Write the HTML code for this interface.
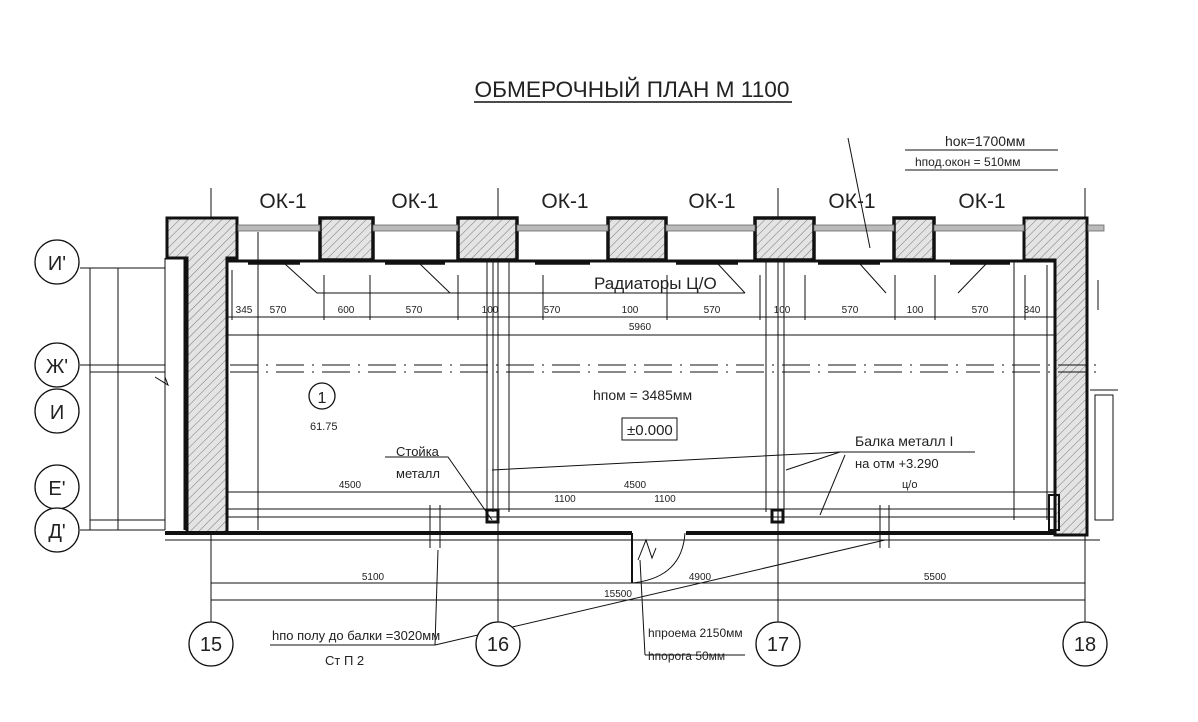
<!DOCTYPE html>
<html><head><meta charset="utf-8"><style>
html,body{margin:0;padding:0;background:#fff;}
svg{display:block;}
text{font-family:"Liberation Sans",sans-serif;font-weight:400;fill:#222;stroke:none;}
</style></head><body>
<svg width="1198" height="722" viewBox="0 0 1198 722" xmlns="http://www.w3.org/2000/svg">
<defs>
<pattern id="h" width="6" height="6" patternUnits="userSpaceOnUse" patternTransform="rotate(45)">
<rect width="6" height="6" fill="#e4e4e4"/><line x1="0" y1="0" x2="0" y2="6" stroke="#777" stroke-width="1"/>
</pattern>
</defs>
<text x="632" y="97" font-size="22" text-anchor="middle" textLength="315" lengthAdjust="spacingAndGlyphs">ОБМЕРОЧНЫЙ ПЛАН  М 1100</text>
<line x1="474" y1="102" x2="792" y2="102" stroke="#111" stroke-width="1.5"/>

<g stroke="#111" fill="none">
<line x1="211" y1="188" x2="211" y2="622" stroke-width="1"/>
<line x1="498" y1="188" x2="498" y2="622" stroke-width="1"/>
<line x1="778" y1="188" x2="778" y2="622" stroke-width="1"/>
<line x1="1085" y1="188" x2="1085" y2="622" stroke-width="1"/>
<path d="M167 218 H237 V258 H227 V533 H187 V258 H167 Z" fill="url(#h)" stroke-width="3"/>
<rect x="320" y="218" width="53" height="42" fill="url(#h)" stroke-width="3.5"/>
<rect x="458" y="218" width="59" height="42" fill="url(#h)" stroke-width="3.5"/>
<rect x="608" y="218" width="58" height="42" fill="url(#h)" stroke-width="3.5"/>
<rect x="755" y="218" width="59" height="42" fill="url(#h)" stroke-width="3.5"/>
<rect x="894" y="218" width="40" height="42" fill="url(#h)" stroke-width="3.5"/>
<path d="M1024 218 H1087 V535 H1055 V260 H1024 Z" fill="url(#h)" stroke-width="3"/>
<g fill="#bbb" stroke="#666" stroke-width="0.8">
<rect x="238" y="225" width="82" height="6"/><rect x="373" y="225" width="85" height="6"/>
<rect x="517" y="225" width="91" height="6"/><rect x="666" y="225" width="89" height="6"/>
<rect x="814" y="225" width="80" height="6"/><rect x="934" y="225" width="90" height="6"/>
<rect x="1088" y="225" width="16" height="6"/>
</g>
<line x1="165" y1="258" x2="165" y2="530" stroke-width="1"/>
<line x1="185" y1="258" x2="185" y2="530" stroke-width="3"/>
<line x1="227" y1="261" x2="1055" y2="261" stroke-width="3"/>
<line x1="165" y1="533" x2="632" y2="533" stroke-width="4"/>
<line x1="686" y1="533" x2="1055" y2="533" stroke-width="4"/>
<line x1="165" y1="540" x2="1100" y2="540" stroke-width="1"/>
<g stroke-width="3.5">
<line x1="248" y1="263" x2="300" y2="263"/><line x1="385" y1="263" x2="445" y2="263"/>
<line x1="535" y1="263" x2="590" y2="263"/><line x1="676" y1="263" x2="738" y2="263"/>
<line x1="818" y1="263" x2="880" y2="263"/><line x1="950" y1="263" x2="1010" y2="263"/>
</g>
<g stroke-width="1">
<polyline points="285,264 317,293 745,293"/>
<line x1="420" y1="264" x2="450" y2="293"/>
<line x1="718" y1="264" x2="745" y2="293"/>
<line x1="860" y1="264" x2="886" y2="293"/>
<line x1="986" y1="264" x2="958" y2="293"/>
<line x1="227" y1="317" x2="1055" y2="317"/>
<line x1="227" y1="335" x2="1055" y2="335"/>
<line x1="232" y1="270" x2="232" y2="320"/>
<line x1="258" y1="232" x2="258" y2="530"/>
<line x1="324" y1="275" x2="324" y2="320"/><line x1="370" y1="275" x2="370" y2="320"/>
<line x1="458" y1="275" x2="458" y2="320"/><line x1="543" y1="275" x2="543" y2="320"/>
<line x1="667" y1="275" x2="667" y2="320"/><line x1="760" y1="275" x2="760" y2="320"/>
<line x1="805" y1="275" x2="805" y2="320"/><line x1="895" y1="275" x2="895" y2="320"/>
<line x1="935" y1="275" x2="935" y2="320"/><line x1="1025" y1="275" x2="1025" y2="320"/>
<line x1="487" y1="262" x2="487" y2="512"/><line x1="509" y1="262" x2="509" y2="512"/>
<line x1="493" y1="262" x2="493" y2="512"/>
<line x1="766" y1="262" x2="766" y2="512"/><line x1="784" y1="262" x2="784" y2="512"/>
<line x1="1014" y1="262" x2="1014" y2="520"/>
<line x1="1047" y1="265" x2="1047" y2="520"/>
<line x1="227" y1="492" x2="1055" y2="492"/>
<line x1="227" y1="509" x2="1055" y2="509"/>
<line x1="227" y1="517" x2="1055" y2="517"/>
<line x1="230" y1="365" x2="1100" y2="365" stroke-dasharray="28,8,2,8"/>
<line x1="230" y1="372" x2="1100" y2="372" stroke-dasharray="28,8,2,8"/>
<line x1="80" y1="268" x2="165" y2="268"/>
<line x1="80" y1="365" x2="165" y2="365"/>
<line x1="90" y1="372" x2="165" y2="372"/>
<line x1="90" y1="520" x2="165" y2="520"/>
<line x1="80" y1="530" x2="165" y2="530"/>
<line x1="90" y1="268" x2="90" y2="530"/>
<line x1="118" y1="268" x2="118" y2="530"/>
<polyline points="155,377 168,385 165,377"/>
<polyline points="385,457 448,457 492,520"/>
<polyline points="492,470 840,452 975,452"/>
<line x1="786" y1="470" x2="840" y2="452"/>
<line x1="820" y1="515" x2="845" y2="455"/>
<polyline points="270,645 435,645 438,550"/>
<polyline points="435,645 885,540"/>
<polyline points="645,655 745,655"/>
<line x1="645" y1="655" x2="640" y2="560"/>
<line x1="632" y1="533" x2="632" y2="583" stroke-width="2"/>
<path d="M632 583 Q682 578 685 533"/>
<polyline points="638,560 646,540 652,558 656,548"/>
<line x1="211" y1="583" x2="1085" y2="583"/>
<line x1="211" y1="600" x2="1085" y2="600"/>
<line x1="430" y1="505" x2="430" y2="548"/><line x1="440" y1="505" x2="440" y2="548"/>
<line x1="880" y1="505" x2="880" y2="548"/><line x1="889" y1="505" x2="889" y2="548"/>
<rect x="622" y="418" width="55" height="22"/>
<line x1="848" y1="138" x2="870" y2="248"/>
<line x1="905" y1="170" x2="1058" y2="170"/>
<line x1="905" y1="150" x2="1058" y2="150"/>
<line x1="1098" y1="280" x2="1098" y2="310"/>
<line x1="1090" y1="390" x2="1118" y2="390"/>
<rect x="1095" y="395" width="18" height="125"/>
</g>
<rect x="487" y="510" width="11" height="12" fill="none" stroke="#111" stroke-width="3"/>
<rect x="772" y="510" width="11" height="12" fill="none" stroke="#111" stroke-width="3"/>
<rect x="1049" y="495" width="10" height="35" fill="none" stroke="#111" stroke-width="2"/>

<g fill="#fff" stroke="#111" stroke-width="1.3">
<circle cx="211" cy="644" r="22"/><circle cx="498" cy="644" r="22"/>
<circle cx="778" cy="644" r="22"/><circle cx="1085" cy="644" r="22"/>
<circle cx="57" cy="262" r="22"/><circle cx="57" cy="365" r="22"/>
<circle cx="57" cy="411" r="22"/><circle cx="57" cy="487" r="22"/>
<circle cx="57" cy="530" r="22"/>
<circle cx="322" cy="396" r="13"/>
</g>
<g font-size="20" text-anchor="middle">
<text x="211" y="651">15</text><text x="498" y="651">16</text>
<text x="778" y="651">17</text><text x="1085" y="651">18</text>
<text x="57" y="270">И'</text><text x="57" y="373">Ж'</text>
<text x="57" y="419">И</text><text x="57" y="495">Е'</text>
<text x="57" y="538">Д'</text>
<text x="322" y="403" font-size="16">1</text>
</g>
<g font-size="21" text-anchor="middle">
<text x="283" y="208">ОК-1</text><text x="415" y="208">ОК-1</text>
<text x="565" y="208">ОК-1</text><text x="712" y="208">ОК-1</text>
<text x="852" y="208">ОК-1</text><text x="982" y="208">ОК-1</text>
</g>
<g font-size="14">
<text x="945" y="146">hок=1700мм</text>
<text x="915" y="166" font-size="12">hпод.окон = 510мм</text>
<text x="594" y="289" font-size="17">Радиаторы Ц/О</text>
<text x="593" y="400">hпом = 3485мм</text>
<text x="627" y="435" font-size="15">±0.000</text>
<text x="310" y="430" font-size="11">61.75</text>
<text x="396" y="456" font-size="13">Стойка</text>
<text x="396" y="478" font-size="13">металл</text>
<text x="855" y="446" font-size="14">Балка металл I</text>
<text x="855" y="468" font-size="13">на отм +3.290</text>
<text x="902" y="488" font-size="11">ц/о</text>
<text x="272" y="640" font-size="13">hпо полу до балки =3020мм</text>
<text x="325" y="665" font-size="13">Ст П 2</text>
<text x="648" y="637" font-size="12">hпроема 2150мм</text>
<text x="648" y="660" font-size="12">hпорога 50мм</text>
</g>
<g font-size="10" text-anchor="middle">
<text x="244" y="313">345</text><text x="278" y="313">570</text><text x="346" y="313">600</text>
<text x="414" y="313">570</text><text x="490" y="313">100</text><text x="552" y="313">570</text>
<text x="630" y="313">100</text><text x="712" y="313">570</text><text x="782" y="313">100</text>
<text x="850" y="313">570</text><text x="915" y="313">100</text><text x="980" y="313">570</text>
<text x="1032" y="313">340</text><text x="640" y="330">5960</text>
<text x="373" y="580">5100</text><text x="700" y="580">4900</text><text x="935" y="580">5500</text>
<text x="618" y="597">15500</text>
<text x="350" y="488">4500</text><text x="635" y="488">4500</text>
<text x="565" y="502">1100</text><text x="665" y="502">1100</text>
</g>
</svg>
</body></html>
